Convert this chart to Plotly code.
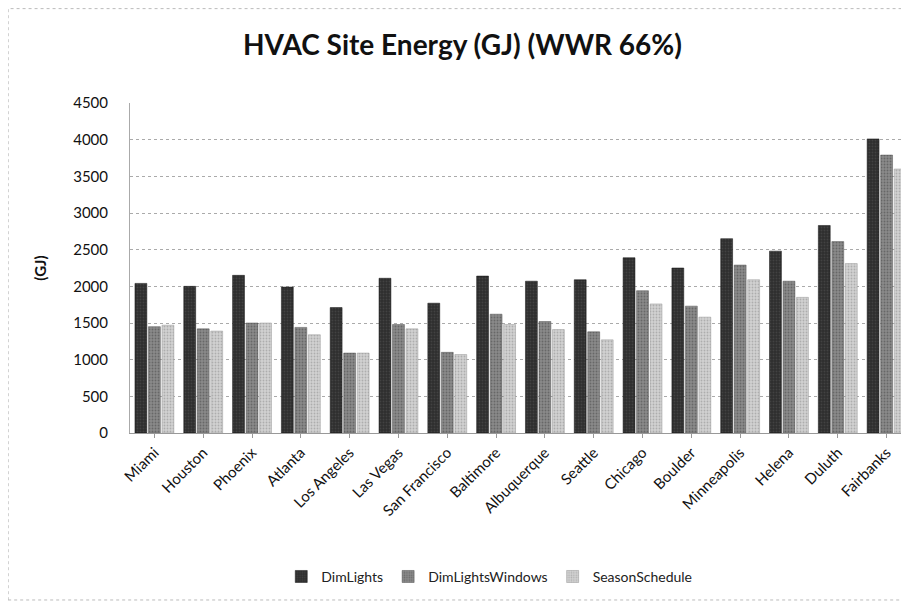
import plotly.graph_objects as go

cities = ["Miami", "Houston", "Phoenix", "Atlanta", "Los Angeles", "Las Vegas",
          "San Francisco", "Baltimore", "Albuquerque", "Seattle", "Chicago",
          "Boulder", "Minneapolis", "Helena", "Duluth", "Fairbanks"]
dim_lights = [2040, 2000, 2150, 1990, 1710, 2110, 1770, 2140, 2070, 2090, 2390, 2250, 2650, 2480, 2830, 4010]
dim_lights_windows = [1450, 1420, 1500, 1440, 1090, 1480, 1100, 1620, 1520, 1380, 1940, 1730, 2290, 2070, 2610, 3790]
season_schedule = [1470, 1390, 1500, 1340, 1090, 1420, 1070, 1480, 1410, 1270, 1760, 1580, 2090, 1850, 2310, 3600]
y_ticks = [0, 500, 1000, 1500, 2000, 2500, 3000, 3500, 4000, 4500]

font = "Lato, Open Sans, sans-serif"

fig = go.Figure()
fig.add_trace(go.Bar(x=cities, y=dim_lights, name="DimLights",
                     marker=dict(color="#2e2e2e", line=dict(color="#111", width=0.5),
                                 pattern=dict(shape=".", fgcolor="#555", size=3, solidity=0.3))))
fig.add_trace(go.Bar(x=cities, y=dim_lights_windows, name="DimLightsWindows",
                     marker=dict(color="#8a8a8a", line=dict(color="#555", width=0.5),
                                 pattern=dict(shape=".", fgcolor="#444", size=3, solidity=0.3))))
fig.add_trace(go.Bar(x=cities, y=season_schedule, name="SeasonSchedule",
                     marker=dict(color="#d2d2d2", line=dict(color="#999", width=0.5),
                                 pattern=dict(shape=".", fgcolor="#888", size=3, solidity=0.3))))

fig.update_layout(
    width=909, height=615,
    paper_bgcolor="white", plot_bgcolor="white",
    margin=dict(l=122, r=6, t=95, b=190),
    title=dict(text="<b>HVAC Site Energy (GJ) (WWR 66%)</b>", x=0.5, xanchor="center",
               y=0.94, yanchor="middle", font=dict(family=font, size=28, color="#111")),
    barmode="group", bargap=0.17, bargroupgap=0.12,
    font=dict(family=font, color="#111"),
    xaxis=dict(tickangle=-45, tickfont=dict(size=15, color="#111"), showgrid=False,
               showline=True, linecolor="#999", linewidth=1, ticks="outside",
               ticklen=4, tickcolor="#999"),
    yaxis=dict(range=[0, 4500], tickvals=y_ticks, tickfont=dict(size=15, color="#111"),
               showgrid=True, gridcolor="#aaa", griddash="dot", gridwidth=1,
               showline=True, linecolor="#aaa", linewidth=1, zeroline=False,
               ticks="", ticklabelstandoff=18,
               title=dict(text="<b>(GJ)</b>", font=dict(size=15, color="#111"), standoff=22)),
    legend=dict(orientation="h", x=0.46, xanchor="center", y=-0.436, yanchor="middle",
                font=dict(size=14, color="#222"), itemwidth=30, traceorder="normal"),
    shapes=[dict(type="rect", xref="paper", yref="paper", x0=-0.156, x1=0.99,
                 y0=-0.506, y1=1.286, line=dict(color="#bbb", width=1, dash="dot"))],
)

fig.write_html("out.html")
